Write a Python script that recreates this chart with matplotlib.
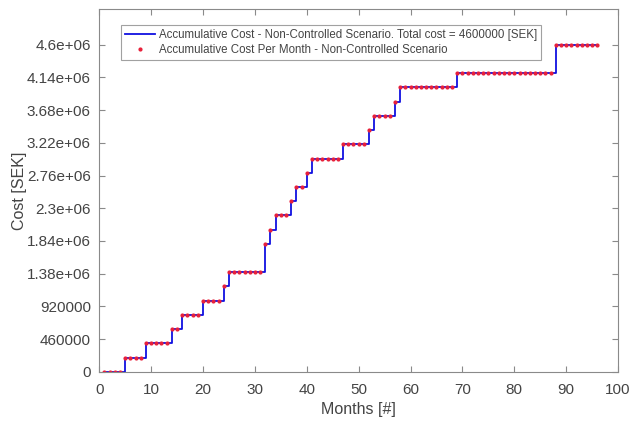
import numpy as np
import matplotlib
matplotlib.use("Agg")
import matplotlib.pyplot as plt

# DATA
months = list(range(1, 97))
cost = [0, 0, 0, 0,
        200000, 200000, 200000, 200000,
        400000, 400000, 400000, 400000, 400000,
        600000, 600000,
        800000, 800000, 800000, 800000,
        1000000, 1000000, 1000000, 1000000,
        1200000,
        1400000, 1400000, 1400000, 1400000, 1400000, 1400000, 1400000,
        1800000,
        2000000,
        2200000, 2200000, 2200000,
        2400000,
        2600000, 2600000,
        2800000,
        3000000, 3000000, 3000000, 3000000, 3000000, 3000000,
        3200000, 3200000, 3200000, 3200000, 3200000,
        3400000,
        3600000, 3600000, 3600000, 3600000,
        3800000,
        4000000, 4000000, 4000000, 4000000, 4000000, 4000000, 4000000, 4000000, 4000000, 4000000, 4000000,
        4200000, 4200000, 4200000, 4200000, 4200000, 4200000, 4200000, 4200000, 4200000, 4200000,
        4200000, 4200000, 4200000, 4200000, 4200000, 4200000, 4200000, 4200000, 4200000,
        4600000, 4600000, 4600000, 4600000, 4600000, 4600000, 4600000, 4600000, 4600000]
total_cost = 4600000
y_ticks = [0, 460000, 920000, 1380000, 1840000, 2300000, 2760000, 3220000, 3680000, 4140000, 4600000]
y_tick_labels = ["0", "460000", "920000", "1.38e+06", "1.84e+06", "2.3e+06",
                 "2.76e+06", "3.22e+06", "3.68e+06", "4.14e+06", "4.6e+06"]
x_ticks = [0, 10, 20, 30, 40, 50, 60, 70, 80, 90, 100]

plt.rcParams['font.family'] = ['Liberation Sans', 'DejaVu Sans']

fig = plt.figure(figsize=(6.32, 4.21), dpi=100)
ax = fig.add_axes([0.157, 0.117, 0.821, 0.861])

ax.step(months, cost, where='post', color='#1010e0', linewidth=1.3,
        label="Accumulative Cost - Non-Controlled Scenario. Total cost = %d [SEK]" % total_cost)
ax.plot(months, cost, linestyle='none', marker='.', markersize=4, color='#e8203a',
        label="Accumulative Cost Per Month - Non-Controlled Scenario")

ax.set_xlim(0, 100)
ax.set_ylim(0, 5.1e6)
ax.set_xticks(x_ticks)
ax.set_yticks(y_ticks)
ax.set_yticklabels(y_tick_labels)

for s in ax.spines.values():
    s.set_color('#8a8a8a')
    s.set_linewidth(0.8)
ax.tick_params(direction='in', top=True, right=True, length=4, color='#8a8a8a',
               labelsize=11, labelcolor='#444444', pad=6)
ax.tick_params(axis='x', pad=8)
ax.set_xlabel("Months [#]", fontsize=11.5, color='#444444', labelpad=4)
ax.set_ylabel("Cost [SEK]", fontsize=11.5, color='#444444', labelpad=0)

leg = ax.legend(loc='upper left', bbox_to_anchor=(0.03, 0.972), fontsize=8.3,
                frameon=True, fancybox=False, edgecolor='#8a8a8a',
                handlelength=2.6, borderpad=0.35, labelspacing=0.25, handletextpad=0.4)
leg.get_frame().set_linewidth(0.8)
for t in leg.get_texts():
    t.set_color('#444444')

fig.savefig("out.png", dpi=100)
